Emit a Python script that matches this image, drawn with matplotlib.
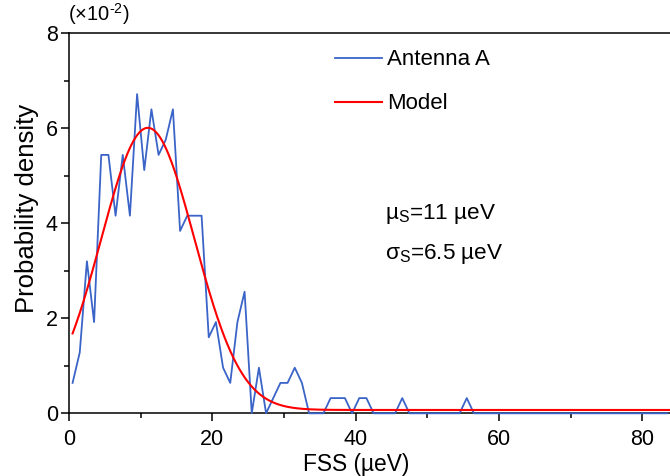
import numpy as np
import matplotlib
matplotlib.use("Agg")
import matplotlib.pyplot as plt
from matplotlib.ticker import MultipleLocator

plt.rcParams['font.family'] = ['Liberation Sans', 'DejaVu Sans']
plt.rcParams['mathtext.fontset'] = 'custom'
plt.rcParams['mathtext.rm'] = 'Liberation Sans'
plt.rcParams['mathtext.it'] = 'Liberation Sans'

# Histogram of fine-structure splitting (bin centres in µeV, density in units of 1e-2 / µeV)
fss_centres = np.arange(0.5, 84.0, 1.0)
density_vals = [
    0.64, 1.28, 3.20, 1.92, 5.44, 5.44, 4.16, 5.44, 4.16, 6.72,
    5.12, 6.40, 5.44, 5.76, 6.40, 3.84, 4.16, 4.16, 4.16, 1.60,
    1.92, 0.96, 0.64, 1.92, 2.56, 0.00, 0.96, 0.00, 0.32, 0.64,
    0.64, 0.96, 0.64, 0.00, 0.00, 0.00, 0.32, 0.32, 0.32, 0.00,
    0.32, 0.32, 0.00, 0.00, 0.00, 0.00, 0.32, 0.00, 0.00, 0.00,
    0.00, 0.00, 0.00, 0.00, 0.00, 0.32, 0.00, 0.00, 0.00, 0.00,
    0.00, 0.00, 0.00, 0.00, 0.00, 0.00, 0.00, 0.00, 0.00, 0.00,
    0.00, 0.00, 0.00, 0.00, 0.00, 0.00, 0.00, 0.00, 0.00, 0.00,
    0.00, 0.00, 0.00, 0.00,
]

# Gaussian model parameters (µeV)
mu_s = 11.0
sigma_s = 6.5
model_peak = 5.94
model_floor = 0.07

x_model = np.linspace(0.5, 84, 600)
y_model = model_peak * np.exp(-(x_model - mu_s) ** 2 / (2 * sigma_s ** 2)) + model_floor

fig = plt.figure(figsize=(6.7, 4.76), dpi=100)
ax = fig.add_axes([69 / 670, 62.7 / 476, 602 / 670, 380 / 476])

ax.plot(fss_centres, density_vals[:len(fss_centres)], color='#3b64c8', lw=1.3,
        label='Antenna A', clip_on=False, zorder=3)
ax.plot(x_model, y_model, color='#ff0000', lw=1.5, label='Model', zorder=4)

ax.set_xlim(0, 84)
ax.set_ylim(0, 8)
ax.xaxis.set_major_locator(MultipleLocator(20))
ax.xaxis.set_minor_locator(MultipleLocator(10))
ax.yaxis.set_major_locator(MultipleLocator(2))
ax.yaxis.set_minor_locator(MultipleLocator(1))
ax.tick_params(which='major', direction='out', length=6, width=1.1, labelsize=15.5)
ax.tick_params(which='minor', direction='out', length=3.5, width=1.1)
ax.tick_params(axis='x', pad=5)
ax.tick_params(axis='y', pad=2)
for s in ax.spines.values():
    s.set_linewidth(1.1)
ax.spines['right'].set_visible(False)

ax.set_xlabel('FSS (µeV)', fontsize=16.4)
ax.set_ylabel('Probability density', fontsize=18.5)
ax.xaxis.set_label_coords(0.4776, -0.105)
ax.yaxis.set_label_coords(-0.05, 0.54)

# Scale factor of the y axis, above the top-left corner of the frame
fig.text(68 / 670, 1 - 21 / 476, '(×10$^{\u2010 2}$)', fontsize=14.5,
         va='baseline', ha='left')

leg = ax.legend(loc='upper left', bbox_to_anchor=(0.409, 1.01), frameon=False,
                fontsize=16, handlelength=2.1, labelspacing=1.03, handletextpad=0.25)

ax.text(0.525, 0.525, 'µ$_\\mathrm{S}$=11 µeV', transform=ax.transAxes, fontsize=16.2,
        va='center', ha='left')
ax.text(0.525, 0.42, 'σ$_\\mathrm{S}$=6.5 µeV', transform=ax.transAxes, fontsize=16.2,
        va='center', ha='left')

fig.savefig('out.png', dpi=100)
